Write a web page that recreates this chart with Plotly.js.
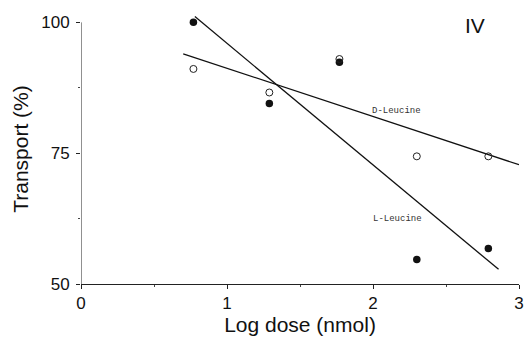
<!DOCTYPE html>
<html>
<head>
<meta charset="utf-8">
<script src="https://cdn.plot.ly/plotly-3.0.1.min.js"></script>
<style>html,body{margin:0;padding:0;background:#fff;}#chart{width:524px;height:337px;}</style>
</head>
<body>
<div id="chart"></div>
<script>
// L-Leucine (filled circles)
var lDose = [0.77, 1.29, 1.77, 2.30, 2.79];
var lTransport = [100.0, 84.5, 92.4, 54.7, 56.8];
// D-Leucine (open circles)
var dDose = [0.77, 1.29, 1.77, 2.30, 2.79];
var dTransport = [91.1, 86.6, 93.0, 74.4, 74.4];
// Regression lines (endpoints as drawn)
var lFitX = [0.78, 2.86];
var lFitY = [101.1, 52.8];
var dFitX = [0.70, 3.0];
var dFitY = [94.0, 72.8];
// Axis ticks
var xTicks = [0, 1, 2, 3];
var yTicks = [50, 75, 100];
var panelLabel = "IV";

var traces = [
  {x: lFitX, y: lFitY, mode: 'lines', line: {color: '#111', width: 1.3}, hoverinfo: 'skip', showlegend: false},
  {x: dFitX, y: dFitY, mode: 'lines', line: {color: '#111', width: 1.3}, hoverinfo: 'skip', showlegend: false},
  {x: lDose, y: lTransport, mode: 'markers', cliponaxis: false,
   marker: {symbol: 'circle', size: 7.5, color: '#111', line: {color: '#111', width: 0}}, showlegend: false},
  {x: dDose, y: dTransport, mode: 'markers', cliponaxis: false,
   marker: {symbol: 'circle-open', size: 7, color: '#222', line: {width: 1}}, showlegend: false}
];

var layout = {
  width: 524, height: 337,
  margin: {l: 81, r: 5, t: 14, b: 53},
  paper_bgcolor: '#fff', plot_bgcolor: '#fff',
  font: {family: 'Liberation Sans, Arial, sans-serif', color: '#111'},
  xaxis: {
    range: [0, 3], tickvals: xTicks, ticktext: xTicks.map(String),
    showgrid: false, zeroline: false, showline: true, linecolor: '#222', linewidth: 1,
    ticks: 'outside', ticklen: 4, tickcolor: '#222', ticklabeloverflow: 'allow', ticklabelstandoff: 0,
    minor: {dtick: 0.5, tick0: 0, ticks: 'outside', ticklen: 2, tickcolor: '#444', showgrid: false},
    tickfont: {size: 17, family: 'Liberation Sans, Arial, sans-serif'},
    title: {text: 'Log dose (nmol)', font: {size: 21}, standoff: 1}
  },
  yaxis: {
    range: [50, 101.6], tickvals: yTicks, ticktext: yTicks.map(String),
    showgrid: false, zeroline: false, showline: false,
    ticks: 'outside', ticklen: 4, tickcolor: '#222', ticklabelstandoff: 3,
    minor: {tickvals: [62.5, 87.5], ticks: 'outside', ticklen: 2, tickcolor: '#444', showgrid: false},
    tickfont: {size: 17, family: 'Liberation Sans, Arial, sans-serif'},
    title: {text: 'Transport (%)', font: {size: 21}, standoff: 6}
  },
  shapes: [
    {type: 'line', xref: 'x', yref: 'y', x0: 0, x1: 0, y0: yTicks[0], y1: yTicks[yTicks.length - 1],
     line: {color: '#222', width: 1}}
  ],
  annotations: [
    {x: 2.16, y: 83.0, xref: 'x', yref: 'y', text: 'D-Leucine', showarrow: false,
     font: {family: 'Liberation Mono, Courier New, monospace', size: 9, color: '#333'}},
    {x: 2.17, y: 62.4, xref: 'x', yref: 'y', text: 'L-Leucine', showarrow: false,
     font: {family: 'Liberation Mono, Courier New, monospace', size: 9, color: '#333'}},
    {x: 2.70, y: 99.4, xref: 'x', yref: 'y', text: panelLabel, showarrow: false,
     font: {family: 'Liberation Sans, Arial, sans-serif', size: 21, color: '#111'}}
  ]
};

Plotly.newPlot('chart', traces, layout, {displayModeBar: false, staticPlot: true});
</script>
</body>
</html>
